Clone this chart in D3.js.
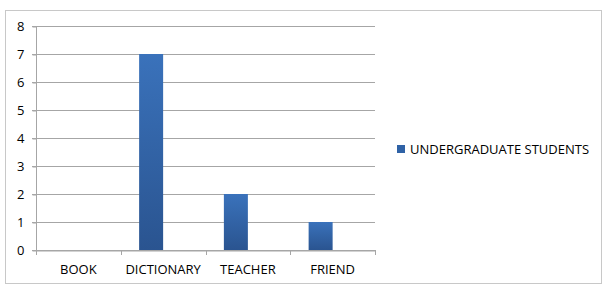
<!DOCTYPE html>
<html>
<head>
<meta charset="utf-8">
<script src="https://cdn.jsdelivr.net/npm/d3@7"></script>
<style>
  body { margin: 0; background: #fff; }
  text { font-family: "Open Sans", "Liberation Sans", sans-serif; fill: #000; }
</style>
</head>
<body>
<div id="chart"></div>
<script>
// values
const categories = ["BOOK", "DICTIONARY", "TEACHER", "FRIEND"];
const students = [0, 7, 2, 1];
const yTicks = [0, 1, 2, 3, 4, 5, 6, 7, 8];
const seriesName = "UNDERGRADUATE STUDENTS";

const W = 607, H = 288;
const plot = { left: 36, right: 375, top: 26, bottom: 250 };

const svg = d3.select("#chart")
  .append("svg")
  .attr("width", W)
  .attr("height", H);

const defs = svg.append("defs");
const grad = defs.append("linearGradient")
  .attr("id", "barGrad")
  .attr("x1", 0).attr("y1", 0).attr("x2", 0).attr("y2", 1);
grad.append("stop").attr("offset", "0%").attr("stop-color", "#3a72bb");
grad.append("stop").attr("offset", "100%").attr("stop-color", "#2a5490");

// outer frame
svg.append("rect")
  .attr("x", 5.5).attr("y", 10.5)
  .attr("width", 596).attr("height", 273)
  .attr("fill", "none")
  .attr("stroke", "#c8c8c8");

const x = d3.scaleBand()
  .domain(categories)
  .range([plot.left, plot.right]);

const y = d3.scaleLinear()
  .domain([0, 8])
  .range([plot.bottom, plot.top]);

// gridlines
svg.append("g")
  .selectAll("line")
  .data(yTicks)
  .enter()
  .append("line")
  .attr("x1", plot.left - 4)
  .attr("x2", plot.right)
  .attr("y1", d => Math.round(y(d)) + 0.5)
  .attr("y2", d => Math.round(y(d)) + 0.5)
  .attr("stroke", "#a6a6a6");

// y axis
const yAxis = svg.append("g")
  .attr("transform", `translate(${plot.left + 0.5},0.5)`)
  .call(d3.axisLeft(y).tickValues(yTicks).tickSize(4).tickPadding(8).tickFormat(d3.format("d")));
yAxis.select(".domain").attr("stroke", "#a6a6a6").attr("d", `M0,${plot.top}V${plot.bottom}`);
yAxis.selectAll(".tick line").attr("stroke", "#a6a6a6");
yAxis.selectAll(".tick text").style("font-size", "13px").attr("fill", "#000");

// x axis
const xAxis = svg.append("g")
  .attr("transform", `translate(0,${plot.bottom + 0.5})`)
  .call(d3.axisBottom(x).tickSize(0).tickPadding(14));
xAxis.select(".domain").attr("stroke", "#a6a6a6");
xAxis.selectAll(".tick text").style("font-size", "13px").attr("fill", "#000");

// category boundary ticks
svg.append("g")
  .selectAll("line")
  .data(categories.concat([null]))
  .enter()
  .append("line")
  .attr("x1", (d, i) => Math.round(plot.left + i * x.bandwidth()) + 0.5)
  .attr("x2", (d, i) => Math.round(plot.left + i * x.bandwidth()) + 0.5)
  .attr("y1", plot.bottom)
  .attr("y2", plot.bottom + 5)
  .attr("stroke", "#a6a6a6");

// bars (left half of a pair slot, like the source)
const barW = 24;
svg.append("g")
  .selectAll("rect")
  .data(categories.map((c, i) => ({ c, v: students[i] })))
  .enter()
  .append("rect")
  .attr("x", d => x(d.c) + x.bandwidth() / 2 - barW)
  .attr("y", d => y(d.v))
  .attr("width", barW)
  .attr("height", d => y(0) - y(d.v))
  .attr("fill", "url(#barGrad)");

// legend
const legend = svg.append("g").attr("transform", "translate(397,145)");
legend.append("rect")
  .attr("width", 8).attr("height", 8)
  .attr("fill", "#2f62a6");
legend.append("text")
  .attr("x", 13)
  .attr("y", 9)
  .style("font-size", "13px")
  .text(seriesName);
</script>
</body>
</html>
